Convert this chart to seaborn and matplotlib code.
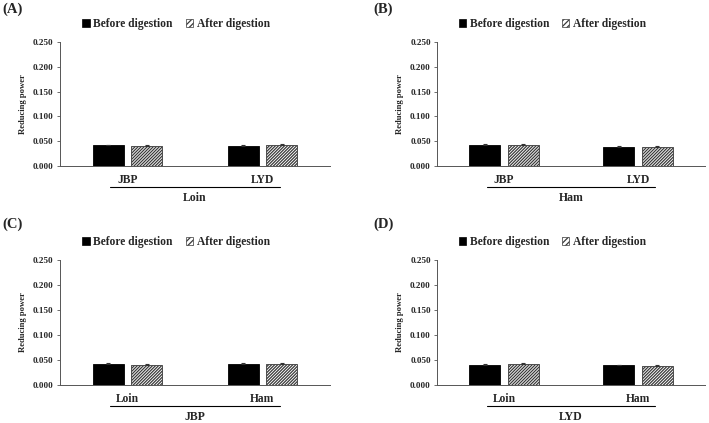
import matplotlib
matplotlib.use("Agg")
import matplotlib.pyplot as plt
import matplotlib.transforms as mtransforms
from matplotlib.patches import Patch
import seaborn as sns
import pandas as pd
import numpy as np

sns.set_theme(style="white")
plt.rcParams['font.family'] = ['Liberation Serif', 'DejaVu Serif']
plt.rcParams['font.weight'] = 'bold'
plt.rcParams['hatch.linewidth'] = 0.9

panel_labels = ["(A)", "(B)", "(C)", "(D)"]
categories = [["JBP", "LYD"], ["JBP", "LYD"], ["Loin", "Ham"], ["Loin", "Ham"]]
group_titles = ["Loin", "Ham", "JBP", "LYD"]
series = ["Before digestion", "After digestion"]
before_vals = [[0.042, 0.040], [0.043, 0.039], [0.042, 0.043], [0.040, 0.040]]
after_vals = [[0.041, 0.043], [0.042, 0.039], [0.041, 0.043], [0.043, 0.039]]
before_err = [[0.0012, 0.0015], [0.0020, 0.0010], [0.0012, 0.0015], [0.0015, 0.0010]]
after_err = [[0.0015, 0.0010], [0.0018, 0.0010], [0.0020, 0.0012], [0.0010, 0.0010]]
yticks = [0.0, 0.05, 0.10, 0.15, 0.20, 0.25]

W, H = 709, 423
fig = plt.figure(figsize=(W / 100, H / 100), dpi=100)

# axes boxes in pixels: left, top, right, bottom
boxes = [(60, 42, 330, 166), (437, 42, 705, 166), (60, 260, 330, 385), (437, 260, 705, 385)]
label_pos = [(2, 9), (373, 9), (2, 224), (373, 224)]
HATCH = "///////////"

for i in range(4):
    l, t, r, b = boxes[i]
    ax = fig.add_axes([l / W, 1 - b / H, (r - l) / W, (b - t) / H])
    df = pd.DataFrame({
        "cat": categories[i] * 2,
        "series": [series[0]] * 2 + [series[1]] * 2,
        "val": before_vals[i] + after_vals[i],
        "err": before_err[i] + after_err[i],
    })
    sns.barplot(data=df, x="cat", y="val", hue="series", order=categories[i],
                hue_order=series, palette=["black", "white"], width=0.57, gap=0.19,
                errorbar=None, ax=ax, legend=False, edgecolor="black", linewidth=0.6)
    patches = [p for p in ax.patches if p.get_height() > 0]
    for j, p in enumerate(patches):
        s = j // 2
        c = j % 2
        if s == 1:
            p.set_hatch(HATCH)
            p.set_edgecolor("#3a3a3a")
        err = (before_err[i] if s == 0 else after_err[i])[c]
        cx = p.get_x() + p.get_width() / 2
        ax.errorbar(cx, p.get_height(), yerr=[[0], [err]], fmt="none",
                    ecolor="#333333", elinewidth=0.8, capsize=1.2, capthick=0.8)
    ax.set_xlim(-0.5, 1.5)
    ax.set_ylim(0, 0.25)
    ax.set_yticks(yticks)
    ax.set_yticklabels([f"{v:.3f}" for v in yticks], fontsize=6.6, fontweight="bold")
    ax.set_xlabel("")
    ax.set_ylabel("Reducing power", fontsize=6.2, fontweight="bold", labelpad=4)
    ax.tick_params(axis="y", which="both", left=True, length=2.5, width=0.6, pad=2,
                   direction="out", color="#555555")
    ax.tick_params(axis="x", bottom=False, pad=0)
    for lab in ax.get_xticklabels():
        lab.set_fontsize(8.3)
        lab.set_fontweight("bold")
    sns.despine(ax=ax)
    for sp in ["left", "bottom"]:
        ax.spines[sp].set_linewidth(0.7)
        ax.spines[sp].set_color("#555555")
    trans = mtransforms.blended_transform_factory(ax.transData, ax.transAxes)
    h_px = b - t
    y_line = -21 / h_px
    ax.plot([-0.13, 1.13], [y_line, y_line], transform=trans, color="black",
            linewidth=0.8, clip_on=False)
    ax.text(0.5, -32 / h_px, group_titles[i], transform=trans, ha="center", va="center",
            fontsize=8.5, fontweight="bold")
    handles = [Patch(facecolor="black", edgecolor="black", linewidth=0.5),
               Patch(facecolor="white", edgecolor="#3a3a3a", hatch="//////", linewidth=0.5)]
    ax.legend(handles, series, loc="center", bbox_to_anchor=(0.43, 1 + 18 / h_px),
              ncol=2, frameon=False, handlelength=0.65, handleheight=0.65,
              handletextpad=0.3, columnspacing=1.1, prop={"weight": "bold", "size": 8.3})
    fig.text(label_pos[i][0] / W, 1 - label_pos[i][1] / H, panel_labels[i],
             ha="left", va="center", fontsize=10.5, fontweight="bold")

fig.savefig("out.png", dpi=100)
